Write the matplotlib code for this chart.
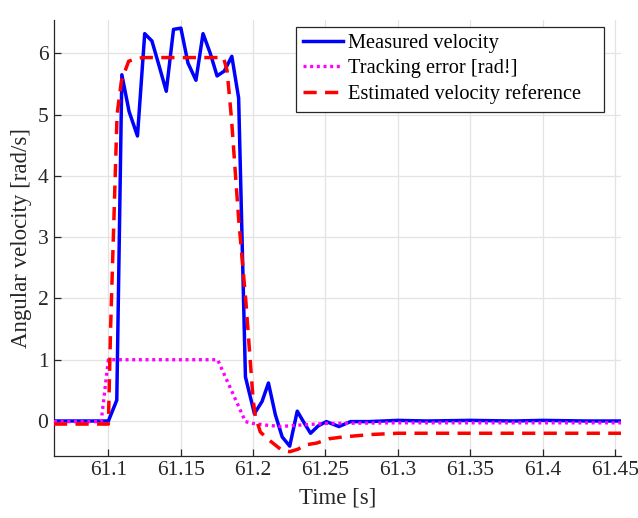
import matplotlib
matplotlib.use('Agg')
import matplotlib.pyplot as plt

# measured velocity samples (time [s], value [rad/s])
t_meas = [61.0624, 61.08, 61.1, 61.1058, 61.1093, 61.1143, 61.1201, 61.1251,
          61.1301, 61.1351, 61.1400, 61.1450, 61.1501, 61.1550, 61.1605,
          61.1654, 61.1704, 61.1751, 61.1801, 61.1853, 61.1900, 61.1947,
          61.2009, 61.2062, 61.2106, 61.2154, 61.2201, 61.2253, 61.2305,
          61.2350, 61.2397, 61.2450, 61.2506, 61.2593, 61.2674, 61.28,
          61.29, 61.30, 61.32, 61.35, 61.38, 61.40, 61.43, 61.4542]
v_meas = [0.0, 0.0, 0.0, 0.34, 5.65, 5.05, 4.65, 6.32,
          6.20, 5.79, 5.38, 6.39, 6.41, 5.84, 5.56,
          6.32, 6.00, 5.63, 5.71, 5.95, 5.27, 0.72,
          0.12, 0.32, 0.62, 0.10, -0.26, -0.41, 0.16,
          -0.02, -0.20, -0.08, -0.01, -0.09, -0.01, -0.01,
          0.0, 0.01, 0.0, 0.01, 0.0, 0.01, 0.0, 0.0]

# tracking error
t_err = [61.0624, 61.095, 61.1, 61.1755, 61.1947, 61.2, 61.21, 61.219,
         61.23, 61.25, 61.3, 61.4542]
v_err = [-0.01, -0.01, 1.0, 1.0, -0.01, -0.04, -0.07, -0.09,
         -0.07, -0.04, -0.03, -0.03]

# estimated velocity reference
t_ref = [61.0624, 61.1, 61.1015, 61.106, 61.109, 61.114, 61.12, 61.125,
         61.1795, 61.182, 61.185, 61.19, 61.195, 61.2, 61.2016, 61.205,
         61.211, 61.22, 61.2255, 61.231, 61.236, 61.244, 61.2525, 61.262,
         61.282, 61.30, 61.4542]
v_ref = [-0.05, -0.05, 1.49, 5.0, 5.55, 5.87, 5.92, 5.93,
         5.93, 5.72, 4.95, 3.3, 1.95, 0.35, 0.07, -0.18,
         -0.31, -0.48, -0.50, -0.46, -0.39, -0.36, -0.29, -0.26,
         -0.22, -0.20, -0.20]

plt.rcParams['font.family'] = ['Liberation Serif', 'DejaVu Serif']

fig = plt.figure(figsize=(6.38, 5.18), dpi=100)
ax = fig.add_axes([0.0846, 0.1203, 0.8887, 0.8411])

ax.plot(t_meas, v_meas, color='#0000ff', lw=2.5, label='Measured velocity', zorder=3)
ax.plot(t_err, v_err, color='#ff00ff', lw=2.4, ls=(0, (0.9, 1.1)),
        label='Tracking error [rad!]', zorder=4)
ax.plot(t_ref, v_ref, color='#ff0000', lw=2.5, ls=(0, (3.8, 2.4)),
        label='Estimated velocity reference', zorder=5)

ax.set_xlim(61.0624, 61.4542)
ax.set_ylim(-0.566, 6.543)
ax.set_xticks([61.1, 61.15, 61.2, 61.25, 61.3, 61.35, 61.4, 61.45])
ax.set_xticklabels(['61.1', '61.15', '61.2', '61.25', '61.3', '61.35', '61.4', '61.45'])
ax.set_yticks(range(0, 7))

ax.grid(True, color='#e3e3e3', lw=0.9)
ax.set_axisbelow(True)
for s in ['top', 'right']:
    ax.spines[s].set_visible(False)
for s in ['left', 'bottom']:
    ax.spines[s].set_color('#262626')
    ax.spines[s].set_linewidth(0.9)
ax.tick_params(direction='in', length=5, width=0.9, color='#262626',
               labelsize=15.5, labelcolor='#262626', pad=4)

ax.set_xlabel('Time [s]', fontsize=16.5, color='#262626', labelpad=5)
ax.set_ylabel('Angular velocity [rad/s]', fontsize=16.5, color='#262626', labelpad=4)

# legend box spans x 295..603 px, y 27..106 px in the reference
leg = ax.legend(loc='upper left', bbox_to_anchor=(0.426, 0.803, 0.544, 0.182),
                mode='expand', fontsize=14.7,
                fancybox=False, framealpha=1, edgecolor='#262626',
                handlelength=2.0, handletextpad=0.2, borderpad=0.35,
                labelspacing=0.3, borderaxespad=0)
leg.get_frame().set_linewidth(0.9)

fig.savefig('out.png', dpi=100)
